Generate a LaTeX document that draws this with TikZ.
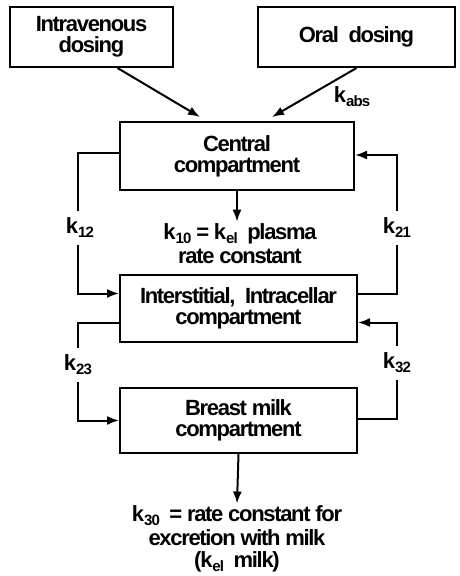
\documentclass[tikz,border=0pt]{standalone}
\usepackage{fontspec}
\newfontfamily\labfam[LetterSpace=-6]{Liberation Sans Bold}
\usetikzlibrary{arrows.meta}
\newcommand{\labfont}{\labfam\fontsize{22}{21}\selectfont}
\newcommand{\lowidx}[1]{\raisebox{-4pt}{\fontsize{15}{15}\selectfont #1}}
\tikzset{
  box/.style={draw,line width=2pt,inner sep=0pt,align=center,font=\labfont},
  link/.style={line width=2pt},
  flow/.style={line width=2pt,-{Latex[length=12pt,width=9pt]}},
  rate/.style={inner sep=0pt,align=center,font=\labfont},
  loopk/.style={rate,minimum height=34pt}
}
\begin{document}
\begin{tikzpicture}[x=1pt,y=-1pt]
    \useasboundingbox (0,0) rectangle (460,576);
    % dosing
    \node[box,minimum width=163pt,minimum height=60pt] (iv) at (91.5,37) {Intravenous\\dosing};
    \node[box,minimum width=197pt,minimum height=60pt] (oral) at (356.5,37) {Oral \ dosing};
    % compartments
    \node[box,minimum width=234pt,minimum height=68pt] (central) at (237,156) {Central\\compartment};
    \node[box,minimum width=237pt,minimum height=67pt] (inter) at (238.5,308.5) {Interstitial, \ Intracellar\\compartment};
    \node[box,minimum width=237pt,minimum height=65pt] (milk) at (238.5,420.5) {Breast milk\\compartment};
    % rate constants
    \node[rate] (kabs) at (352,97) {k\lowidx{abs}};
    \node[loopk] (k12) at (80,228) {k\lowidx{12}};
    \node[loopk] (k21) at (397,228) {k\lowidx{21}};
    \node[loopk] (k23) at (78,365) {k\lowidx{23}};
    \node[loopk] (k32) at (397,363) {k\lowidx{32}};
    \node[rate,inner sep=2pt] (kel) at (240,244) {k\lowidx{10} = k\lowidx{el} \ plasma\\[3pt]rate constant};
    \node[rate,inner sep=2pt] (k30) at (237,539) {k\lowidx{30} \ = rate constant for\\[3pt]excretion with milk\\[1pt](k\lowidx{el} \ milk)};
    % arrows
    \draw[flow] ([xshift=26pt]iv.south) -- ([xshift=-37pt,yshift=4pt]central.north);
    \draw[flow] (oral.south) -- ([xshift=35pt,yshift=4pt]central.north);
    \draw[flow] (central.south) -- ([xshift=-3pt]kel.north);
    \draw[flow] (milk.south) -- (k30.north);
    \draw[link] ([yshift=3pt]central.west) -| ([xshift=-2pt]k12.north);
    \draw[flow] ([xshift=-2pt]k12.south) |- ([yshift=15pt]inter.west);
    \draw[link] ([yshift=15pt]inter.east) -| (k21.south);
    \draw[flow] (k21.north) |- ([yshift=1pt]central.east);
    \draw[link] ([yshift=-14pt]inter.west) -| (k23.north);
    \draw[flow] (k23.south) |- (milk.west);
    \draw[link] ([yshift=2pt]milk.east) -| (k32.south);
    \draw[flow] (k32.north) |- ([yshift=-14pt]inter.east);
\end{tikzpicture}
\end{document}
